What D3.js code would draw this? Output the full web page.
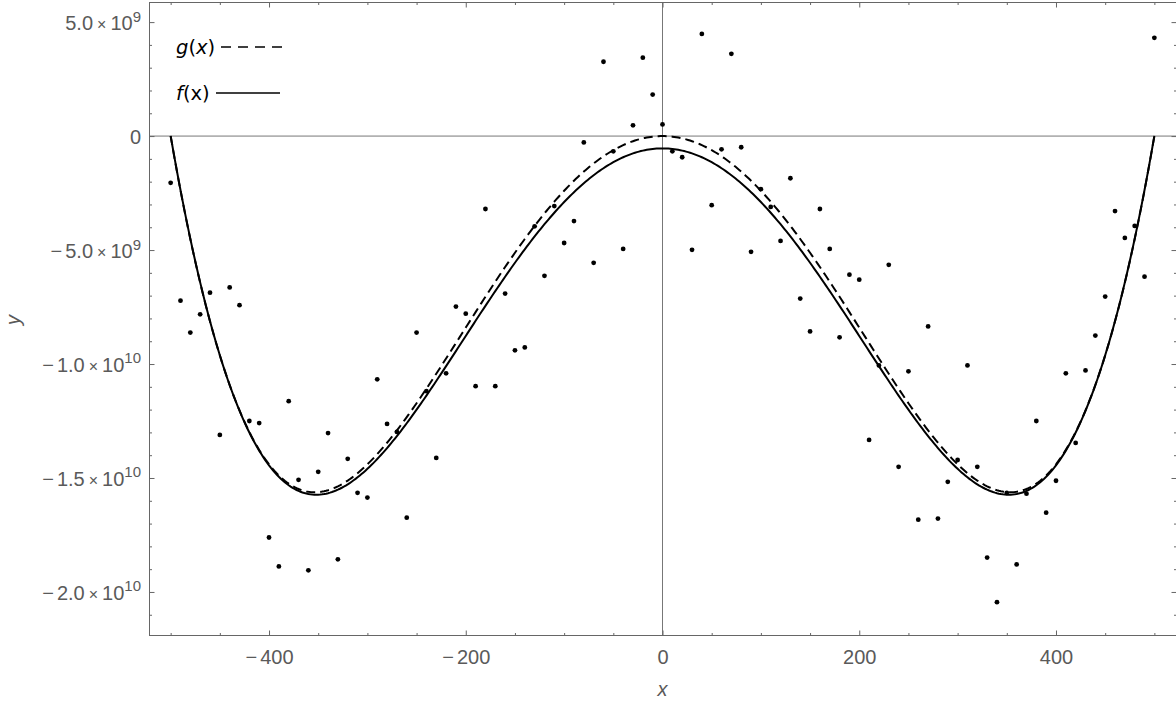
<!DOCTYPE html>
<html><head><meta charset="utf-8">
<script src="https://cdn.jsdelivr.net/npm/d3@7"></script>
<style>body{margin:0;background:#fff}svg{display:block}</style>
</head><body><svg id="c" width="1176" height="701"></svg>
<script>
// ---- data (y in units of 1e9) ----
const xData = [-500,-490,-480,-470,-460,-450,-440,-430,-420,-410,-400,-390,-380,-370,-360,-350,-340,-330,-320,-310,-300,-290,-280,-270,-260,-250,-240,-230,-220,-210,-200,-190,-180,-170,-160,-150,-140,-130,-120,-110,-100,-90,-80,-70,-60,-50,-40,-30,-20,-10,0,10,20,30,40,50,60,70,80,90,100,110,120,130,140,150,160,170,180,190,200,210,220,230,240,250,260,270,280,290,300,310,320,330,340,350,360,370,380,390,400,410,420,430,440,450,460,470,480,490,500];
const yData = [-2.05,-7.22,-8.62,-7.82,-6.87,-13.11,-6.64,-7.42,-12.50,-12.59,-17.61,-18.88,-11.63,-15.08,-19.05,-14.73,-13.03,-18.57,-14.16,-15.65,-15.86,-10.67,-12.63,-12.98,-16.74,-8.62,-11.19,-14.12,-10.41,-7.48,-7.79,-10.97,-3.20,-10.97,-6.91,-9.40,-9.27,-3.96,-6.13,-3.07,-4.69,-3.73,-0.28,-5.56,3.26,-0.67,-4.95,0.47,3.44,1.82,0.51,-0.67,-0.93,-4.99,4.48,-3.03,-0.58,3.61,-0.49,-5.08,-2.33,-3.11,-4.60,-1.85,-7.13,-8.57,-3.20,-4.95,-8.83,-6.08,-6.30,-13.33,-10.06,-5.65,-14.51,-10.32,-16.83,-8.35,-16.78,-15.17,-14.21,-10.06,-14.51,-18.49,-20.45,-15.65,-18.79,-15.69,-12.50,-16.52,-15.12,-10.41,-13.46,-10.28,-8.75,-7.04,-3.29,-4.47,-3.94,-6.17,4.31];
// polynomial coefficients c0..c4 (y in 1e9 units)
const gCoef = [0, 0, -2.5e-4, 0, 1e-9];
const fCoef = [-0.54, 0, -2.453e-4, 0, 0.99e-9];
const curveRange = [-500, 500];
const xMajorTicks = [-400, -200, 0, 200, 400];
const xTickLabels = ["\u2212400", "\u2212200", "0", "200", "400"];
const xMinorTicks = [-500,-450,-350,-300,-250,-150,-100,-50,50,100,150,250,300,350,450,500];
const yMajorTicks = [5, 0, -5, -10, -15, -20];
const yTickMantissa = ["5.0", "0", "\u22125.0", "\u22121.0", "\u22121.5", "\u22122.0"];
const yTickExponent = ["9", "", "9", "10", "10", "10"];
const yMinorTicks = [4,3,2,1,-1,-2,-3,-4,-6,-7,-8,-9,-11,-12,-13,-14,-16,-17,-18,-19,-21];
const legendNames = ["g", "f"];

// ---- layout ----
const W = 1176, H = 701;
const L = 149.5, R = 1176.5, T = 2.5, B = 635.5;
const gray = "#666";
const FONT = "'Liberation Sans', Arial, sans-serif";
const svg = d3.select("#c");
svg.append("rect").attr("width", W).attr("height", H).attr("fill", "#fff");

const x = d3.scaleLinear().domain([-521.5, 522.5]).range([L, R]);
const y = d3.scaleLinear().domain([5.86, -21.91]).range([T, B]);

svg.append("defs").append("clipPath").attr("id", "clip")
  .append("rect").attr("x", L).attr("y", T).attr("width", R - L).attr("height", B - T);

// zero axes
svg.append("line").attr("x1", x(0)).attr("x2", x(0)).attr("y1", T).attr("y2", B)
  .attr("stroke", "#777").attr("stroke-width", 1);
svg.append("line").attr("x1", L).attr("x2", R).attr("y1", y(0)).attr("y2", y(0))
  .attr("stroke", "#777").attr("stroke-width", 1);

// frame
svg.append("rect").attr("x", L).attr("y", T).attr("width", R - L).attr("height", B - T)
  .attr("fill", "none").attr("stroke", gray).attr("stroke-width", 1);

function styleAxis(g) {
  g.select(".domain").remove();
  g.selectAll(".tick line").attr("stroke", gray);
  g.selectAll("text").attr("fill", "#5a5a5a")
    .style("font-family", FONT).style("font-size", "20px");
}
// write a label, giving the minus sign a little extra room as in the reference
function writeNum(t, s, gap) {
  if (s.startsWith("\u2212")) {
    t.append("tspan").text("\u2212");
    t.append("tspan").text(s.slice(1)).attr("dx", gap);
  } else {
    t.append("tspan").text(s);
  }
}
// bottom
const botAx = svg.append("g").attr("transform", `translate(0,${B})`)
  .call(d3.axisBottom(x).tickValues(xMajorTicks).tickSize(-5).tickPadding(14)
    .tickFormat((d, i) => xTickLabels[i])).call(styleAxis);
botAx.selectAll(".tick").each(function(d, i) {
  const t = d3.select(this).select("text");
  t.text(null);
  writeNum(t, xTickLabels[i], 3);
});
svg.append("g").attr("transform", `translate(0,${B})`)
  .call(d3.axisBottom(x).tickValues(xMinorTicks).tickSize(-2.5).tickFormat("")).call(styleAxis);
// top
svg.append("g").attr("transform", `translate(0,${T})`)
  .call(d3.axisTop(x).tickValues(xMajorTicks).tickSize(-5).tickFormat("")).call(styleAxis);
svg.append("g").attr("transform", `translate(0,${T})`)
  .call(d3.axisTop(x).tickValues(xMinorTicks).tickSize(-2.5).tickFormat("")).call(styleAxis);
// left
const leftAx = svg.append("g").attr("transform", `translate(${L},0)`)
  .call(d3.axisLeft(y).tickValues(yMajorTicks).tickSize(-5).tickPadding(8)
    .tickFormat((d, i) => yTickMantissa[i])).call(styleAxis);
svg.append("g").attr("transform", `translate(${L},0)`)
  .call(d3.axisLeft(y).tickValues(yMinorTicks).tickSize(-2.5).tickFormat("")).call(styleAxis);
// right
svg.append("g").attr("transform", `translate(${R},0)`)
  .call(d3.axisRight(y).tickValues(yMajorTicks).tickSize(-5).tickFormat("")).call(styleAxis);
svg.append("g").attr("transform", `translate(${R},0)`)
  .call(d3.axisRight(y).tickValues(yMinorTicks).tickSize(-2.5).tickFormat("")).call(styleAxis);

// y tick labels with superscripts
leftAx.selectAll(".tick").each(function(d, i) {
  const t = d3.select(this).select("text");
  t.text(null).attr("x", -8.5).attr("dy", "0.36em").attr("text-anchor", "end");
  writeNum(t, yTickMantissa[i], 3);
  if (yTickExponent[i] !== "") {
    t.append("tspan").text("\u00d7").style("font-size", "16px").attr("dx", 4);
    t.append("tspan").text("10").attr("dx", 4);
    t.append("tspan").text(yTickExponent[i]).style("font-size", "15px").attr("dy", "-0.55em");
  }
});

// curves
function poly(c, v) { return c.reduce((s, k, j) => s + k * Math.pow(v, j), 0); }
const xs = d3.range(curveRange[0], curveRange[1] + 0.001, 2);
const line = d3.line().x(d => x(d[0])).y(d => y(d[1]));
const plot = svg.append("g").attr("clip-path", "url(#clip)");
plot.append("path").datum(xs.map(v => [v, poly(gCoef, v)]))
  .attr("d", line).attr("fill", "none").attr("stroke", "#000").attr("stroke-width", 2)
  .attr("stroke-dasharray", "9,5");
plot.append("path").datum(xs.map(v => [v, poly(fCoef, v)]))
  .attr("d", line).attr("fill", "none").attr("stroke", "#000").attr("stroke-width", 2);

// points
plot.selectAll("circle.pt").data(xData.map((v, i) => [v, yData[i]])).join("circle")
  .attr("class", "pt").attr("cx", d => x(d[0])).attr("cy", d => y(d[1])).attr("r", 2.4)
  .attr("fill", "#000");

// legend
const leg = svg.append("g").style("font-family", "'DejaVu Sans', Verdana, sans-serif")
  .style("font-size", "19.5px").attr("fill", "#000");
const gT = leg.append("text").attr("x", 176).attr("y", 54);
gT.append("tspan").text(legendNames[0]).style("font-style", "italic");
gT.append("tspan").text("(");
gT.append("tspan").text("x").style("font-style", "italic");
gT.append("tspan").text(")");
leg.append("line").attr("x1", 221).attr("x2", 287).attr("y1", 47).attr("y2", 47)
  .attr("stroke", "#000").attr("stroke-width", 1.5).attr("stroke-dasharray", "10,7");
const fT = leg.append("text").attr("x", 176).attr("y", 100);
fT.append("tspan").text(legendNames[1]).style("font-style", "italic");
fT.append("tspan").text("(x)");
leg.append("line").attr("x1", 216).attr("x2", 280).attr("y1", 93).attr("y2", 93)
  .attr("stroke", "#000").attr("stroke-width", 1.5);

// axis titles
svg.append("text").attr("x", x(0)).attr("y", 696).attr("text-anchor", "middle")
  .style("font-family", FONT).style("font-size", "20px")
  .style("font-style", "italic").attr("fill", "#5a5a5a").text("x");
svg.append("text").attr("transform", "translate(20,320) rotate(-90)").attr("text-anchor", "middle")
  .style("font-family", FONT).style("font-size", "20px")
  .style("font-style", "italic").attr("fill", "#5a5a5a").text("y");
</script></body></html>
